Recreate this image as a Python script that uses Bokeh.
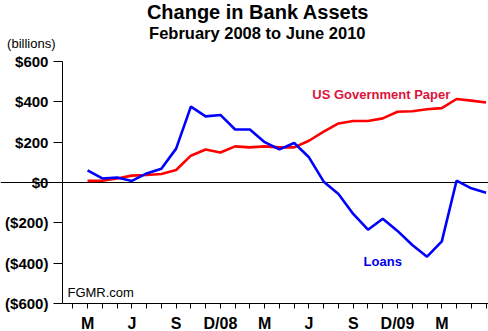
from bokeh.plotting import figure
from bokeh.models import Range1d, FixedTicker, Label
from bokeh.embed import file_html
from bokeh.resources import INLINE

# Months of data (Mar 2008 .. Jun 2010); axis starts at Feb 2008 (index 0)
months = ["Mar 2008", "Apr 2008", "May 2008", "Jun 2008", "Jul 2008", "Aug 2008",
          "Sep 2008", "Oct 2008", "Nov 2008", "Dec 2008", "Jan 2009", "Feb 2009",
          "Mar 2009", "Apr 2009", "May 2009", "Jun 2009", "Jul 2009", "Aug 2009",
          "Sep 2009", "Oct 2009", "Nov 2009", "Dec 2009", "Jan 2010", "Feb 2010",
          "Mar 2010", "Apr 2010", "May 2010", "Jun 2010"]
loans = [60, 20, 25, 8, 45, 68, 168, 376, 328, 335, 263, 263, 200, 164, 196, 125,
         4, -57, -156, -234, -180, -240, -310, -368, -292, 9, -29, -51]
gov_paper = [8, 9, 20, 34, 37, 42, 62, 133, 164, 149, 179, 174, 179, 174, 174, 207,
             252, 293, 305, 305, 318, 351, 353, 363, 369, 414, 406, 397]
tick_labels = {1: "M", 4: "J", 7: "S", 10: "D/08", 13: "M", 16: "J", 19: "S",
               22: "D/09", 25: "M"}
y_ticks = [-600, -400, -200, 0, 200, 400, 600]
y_labels = {600: "$600", 400: "$400", 200: "$200", 0: "$0",
            -200: "($200)", -400: "($400)", -600: "($600)"}

x = [i + 1 for i in range(len(months))]

FONT = "Liberation Sans"
AX_X0, AX_X1 = -0.70, 28.164   # visible axis extent (months from Feb 2008)
AX_Y0, AX_Y1 = -600, 600

p = figure(width=488, height=331, output_backend="svg", toolbar_location=None,
           x_range=Range1d(-4.898, 28.164), y_range=Range1d(-738.8, 902.5),
           min_border=0)
p.outline_line_color = None
p.xgrid.visible = False
p.background_fill_color = "white"
p.border_fill_color = "white"

# zero line via a single bounded grid line
p.ygrid.ticker = FixedTicker(ticks=[0])
p.ygrid.bounds = (AX_X0, AX_X1)
p.ygrid.grid_line_color = "black"
p.ygrid.grid_line_width = 1

# y axis (drawn inside the frame at the left edge of the plotting area)
p.yaxis.fixed_location = AX_X0
p.yaxis.bounds = (AX_Y0, AX_Y1)
p.yaxis.ticker = FixedTicker(ticks=y_ticks)
p.yaxis.major_label_overrides = y_labels
p.yaxis.major_tick_out = 9
p.yaxis.major_tick_in = 0
p.yaxis.minor_tick_line_color = None
p.yaxis.major_label_standoff = 5
p.yaxis.major_label_text_font = FONT
p.yaxis.major_label_text_font_style = "bold"
p.yaxis.major_label_text_font_size = "15px"
p.yaxis.major_label_text_color = "black"
p.yaxis.axis_line_color = "black"

# x axis
p.xaxis.fixed_location = AX_Y0
p.xaxis.bounds = (AX_X0, AX_X1)
p.xaxis.ticker = FixedTicker(ticks=list(range(0, 29)))
p.xaxis.major_label_overrides = {i: tick_labels.get(i, "") for i in range(0, 29)}
p.xaxis.major_tick_out = 5
p.xaxis.major_tick_in = 0
p.xaxis.minor_tick_line_color = None
p.xaxis.major_label_standoff = 6
p.xaxis.major_label_text_font = FONT
p.xaxis.major_label_text_font_style = "bold"
p.xaxis.major_label_text_font_size = "16px"
p.xaxis.major_label_text_color = "black"
p.xaxis.axis_line_color = "black"

p.line(x, gov_paper, line_color="#FF0000", line_width=2.6)
p.line(x, loans, line_color="#0000FF", line_width=2.6)

def lab(xv, yv, txt, size, style="bold", color="black", align="center"):
    p.add_layout(Label(x=xv, y=yv, text=txt, text_font=FONT, text_font_size=size,
                       text_font_style=style, text_color=color, text_align=align,
                       text_baseline="middle"))

lab(12.55, 845, "Change in Bank Assets", "20px")
lab(12.5, 740, "February 2008 to June 2010", "16.5px")
lab(-2.81, 691, "(billions)", "13px", style="normal")
lab(-0.36, -545, "FGMR.com", "13px", style="normal", align="left")
lab(20.9, 435, "US Government Paper", "13px", color="#DC143C")
lab(21.0, -392, "Loans", "13px", color="#0000EE")

open("out.html", "w").write(file_html(p, INLINE))
